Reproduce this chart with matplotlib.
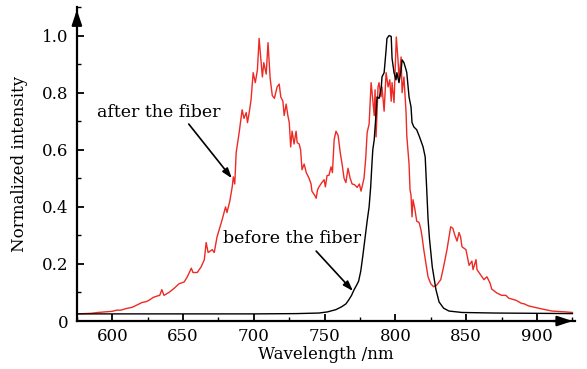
import matplotlib
matplotlib.use("Agg")
import matplotlib.pyplot as plt
from matplotlib.ticker import MultipleLocator, FuncFormatter

# wavelength (nm) / normalized intensity
after_wl = [575, 580, 585, 590, 595, 600, 603, 606, 610, 614, 617, 621, 624, 626, 629, 632,
            633.5, 635, 636.5, 640, 643.8, 647, 650.8, 653, 655.8, 657, 660, 662.8, 665, 666.3,
            667.7, 670.6, 672, 674, 675.5, 677.6, 680, 681, 683, 684.7, 685.5, 686.5, 687.5,
            689.6, 691.7, 693, 694.6, 695.5, 696.7, 698, 699.5, 701, 702.5, 703.7, 705, 706,
            707, 708.7, 710, 711.5, 713, 714.5, 716.4, 717.9, 719, 720.5, 721.4, 722.8, 724,
            725, 726, 727, 728.4, 729.8, 730.6, 732, 733, 734, 735.5, 737, 739, 740.4, 741,
            743, 744, 745, 746, 748, 749.6, 750.5, 751.7, 753, 754.5, 755.5, 756.7, 758,
            759.5, 761, 762.3, 763.7, 765, 766.5, 768, 769.4, 771, 773, 774.5, 775.7, 776.4,
            777.8, 779, 780, 781.4, 782.8, 783.5, 785, 785.6, 786.3, 787.7, 788.4, 789.8,
            790.5, 792, 793.4, 794.8, 796, 797, 797.6, 799, 799.7, 800.6, 801.8, 802.5, 804,
            804.7, 806, 807.5, 808, 809.6, 810.3, 811, 811.7, 812.4, 813.8, 815, 816.7, 818,
            818.8, 820, 821.6, 823, 825, 827, 829, 832, 834, 836.4, 839, 840.5, 842, 843.5,
            844.9, 846, 847, 849.8, 852, 854, 854.8, 856.9, 857.6, 860.4, 862.5, 864.6, 866.8,
            868, 871.7, 875, 878, 880, 885, 889, 891, 894, 901, 910.5, 920, 925]
after_val = [0.025, 0.026, 0.027, 0.03, 0.032, 0.034, 0.038, 0.038, 0.044, 0.048, 0.055, 0.065,
             0.068, 0.073, 0.083, 0.088, 0.09, 0.11, 0.09, 0.1, 0.115, 0.13, 0.137, 0.155, 0.185,
             0.17, 0.17, 0.19, 0.215, 0.275, 0.24, 0.25, 0.24, 0.295, 0.32, 0.355, 0.4, 0.38,
             0.42, 0.47, 0.505, 0.48, 0.59, 0.66, 0.74, 0.71, 0.73, 0.695, 0.73, 0.775, 0.87,
             0.835, 0.88, 0.99, 0.915, 0.855, 0.905, 0.865, 0.975, 0.85, 0.79, 0.78, 0.82, 0.83,
             0.785, 0.77, 0.72, 0.76, 0.72, 0.695, 0.61, 0.665, 0.62, 0.665, 0.625, 0.62, 0.6,
             0.53, 0.55, 0.52, 0.5, 0.48, 0.455, 0.44, 0.43, 0.46, 0.47, 0.485, 0.495, 0.47,
             0.51, 0.51, 0.54, 0.52, 0.635, 0.665, 0.65, 0.59, 0.55, 0.5, 0.485, 0.535, 0.5,
             0.48, 0.478, 0.468, 0.48, 0.455, 0.47, 0.5, 0.57, 0.66, 0.69, 0.835, 0.8, 0.72,
             0.81, 0.645, 0.82, 0.835, 0.785, 0.82, 0.735, 0.87, 0.82, 0.845, 0.77, 0.835, 0.765,
             0.87, 0.995, 0.915, 0.85, 0.925, 0.8, 0.855, 0.73, 0.65, 0.55, 0.46, 0.44, 0.365,
             0.425, 0.39, 0.35, 0.345, 0.32, 0.295, 0.25, 0.2, 0.155, 0.13, 0.12, 0.125, 0.145,
             0.19, 0.25, 0.33, 0.325, 0.3, 0.28, 0.31, 0.295, 0.26, 0.25, 0.195, 0.21, 0.18,
             0.215, 0.18, 0.16, 0.145, 0.155, 0.133, 0.112, 0.098, 0.09, 0.09, 0.08, 0.073,
             0.062, 0.06, 0.053, 0.045, 0.035, 0.032, 0.03]

before_wl = [575, 600, 650, 700, 730, 746, 752, 758, 762, 765, 767, 769, 770.8, 772.5, 774,
             775.5, 777, 778.5, 780, 781.4, 782.5, 783.5, 784, 785, 786, 787, 788.5, 790,
             790.5, 792, 793.4, 794, 795.5, 797, 797.6, 799, 800.4, 801, 802.5, 804, 804.7,
             806, 807.5, 808, 809.6, 811, 811.7, 813, 815, 817, 818.8, 819.5, 821, 822, 823,
             824, 826, 828.6, 830.8, 834, 837.8, 847, 870, 900, 925]
before_val = [0.025, 0.025, 0.025, 0.025, 0.026, 0.028, 0.032, 0.04, 0.05, 0.06, 0.074, 0.09,
              0.11, 0.125, 0.14, 0.175, 0.23, 0.29, 0.35, 0.4, 0.47, 0.56, 0.6, 0.635, 0.705,
              0.785, 0.78, 0.82, 0.855, 0.87, 0.95, 0.99, 1.0, 0.997, 0.92, 0.87, 0.845, 0.87,
              0.835, 0.88, 0.915, 0.905, 0.88, 0.87, 0.785, 0.75, 0.695, 0.68, 0.67, 0.645,
              0.62, 0.61, 0.575, 0.47, 0.36, 0.29, 0.19, 0.11, 0.067, 0.045, 0.035, 0.03, 0.028,
              0.027, 0.026]

plt.rcParams['font.family'] = ['DejaVu Serif']

fig = plt.figure(figsize=(5.87, 3.69), dpi=100)
ax = fig.add_axes([0.131, 0.130, 0.849, 0.851])

ax.plot(after_wl, after_val, color='#ee2a24', lw=1.0)
ax.plot(before_wl, before_val, color='black', lw=1.0)

ax.set_xlim(575, 927)
ax.set_ylim(0, 1.1)
ax.xaxis.set_minor_locator(MultipleLocator(25))
ax.yaxis.set_minor_locator(MultipleLocator(0.1))
ax.set_xticks([600, 650, 700, 750, 800, 850, 900])
ax.set_yticks([0, 0.2, 0.4, 0.6, 0.8, 1.0])
ax.yaxis.set_major_formatter(FuncFormatter(lambda v, p: '0' if abs(v) < 1e-9 else f'{v:.1f}'))

for s in ['top', 'right']:
    ax.spines[s].set_visible(False)
for s in ['left', 'bottom']:
    ax.spines[s].set_linewidth(1.6)

ax.tick_params(which='major', direction='in', length=5, width=1.3, labelsize=12)
ax.tick_params(which='minor', direction='in', length=3, width=1.0)
ax.tick_params(axis='x', pad=5)
ax.tick_params(axis='y', pad=6)

# arrow heads on axes
ax.annotate('', xy=(1.0, 0), xytext=(0.95, 0), xycoords='axes fraction',
            arrowprops=dict(arrowstyle='-|>,head_length=0.9,head_width=0.3', color='black', lw=1.6))
ax.annotate('', xy=(0, 1.0), xytext=(0, 0.95), xycoords='axes fraction',
            arrowprops=dict(arrowstyle='-|>,head_length=0.9,head_width=0.3', color='black', lw=1.6))

ax.set_xlabel('Wavelength /nm', fontsize=12, labelpad=1)
ax.set_ylabel('Normalized intensity', fontsize=12, labelpad=10)

arrow = dict(arrowstyle='-|>,head_length=0.6,head_width=0.2', color='black',
             lw=1.2, shrinkA=0, shrinkB=0)
ax.text(633, 0.73, 'after the fiber', fontsize=12.5, ha='center', va='center')
ax.annotate('', xy=(684.5, 0.5), xytext=(654, 0.69), arrowprops=arrow)
ax.text(727, 0.29, 'before the fiber', fontsize=12.5, ha='center', va='center')
ax.annotate('', xy=(770, 0.105), xytext=(744, 0.245), arrowprops=arrow)

fig.savefig('out.png', dpi=100)
